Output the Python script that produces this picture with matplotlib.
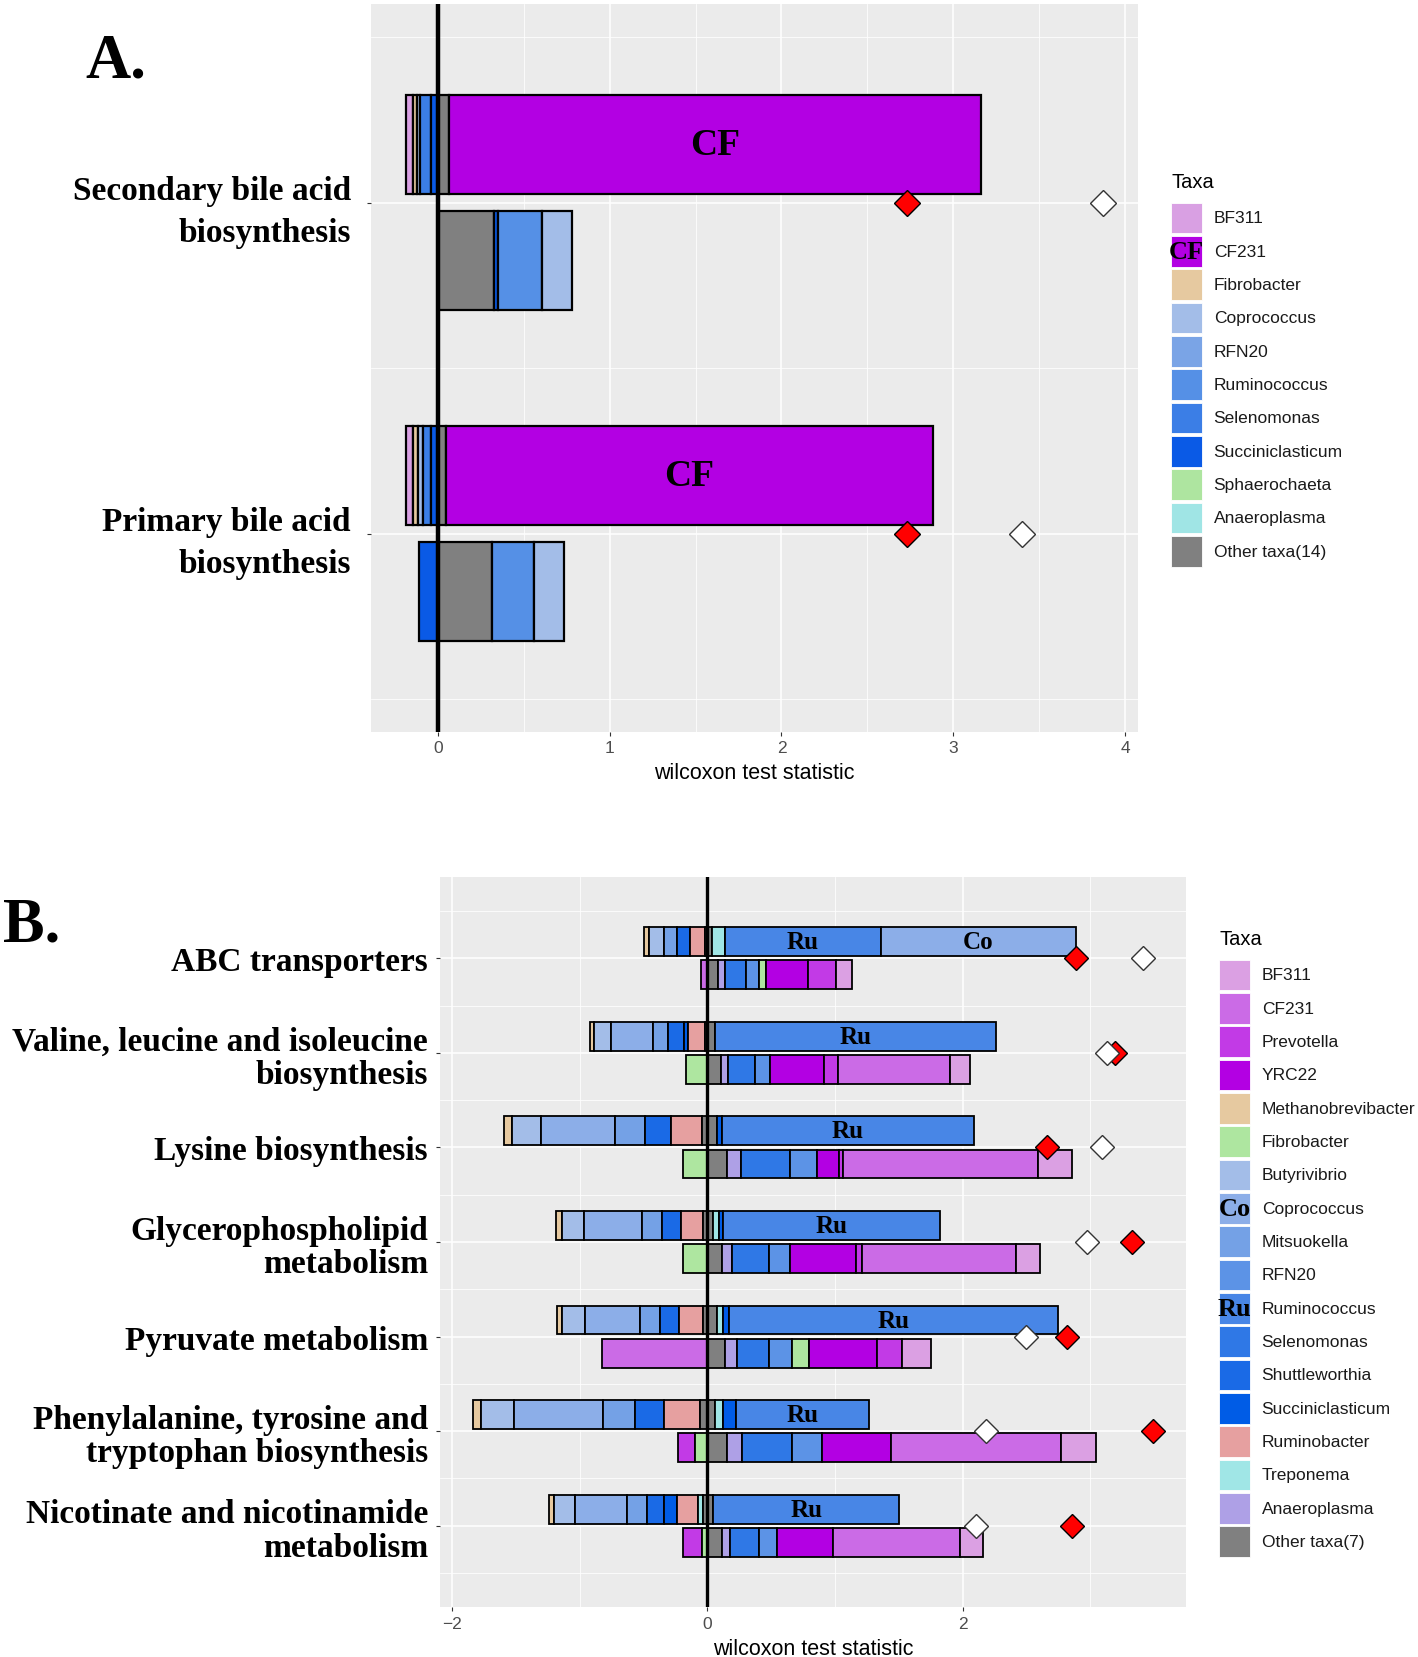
import matplotlib
matplotlib.use('Agg')
import matplotlib.pyplot as plt
from matplotlib.patches import Rectangle

plt.rcParams['font.family'] = ['Liberation Sans', 'DejaVu Sans']
SERIF = 'Liberation Serif'
PANEL = '#ebebeb'
W, H = 1418, 1658
ROW = 33.33  # legend row pitch in px

# ============================================================
# Panel A data
# ============================================================
a_pathways = ['Primary bile acid\nbiosynthesis', 'Secondary bile acid\nbiosynthesis']
a_taxa = ['BF311', 'CF231', 'Fibrobacter', 'Coprococcus', 'RFN20', 'Ruminococcus',
          'Selenomonas', 'Succiniclasticum', 'Sphaerochaeta', 'Anaeroplasma', 'Other']
a_colors = ['#d9a0e3', '#b300e3', '#e6c9a0', '#a3bde8', '#7aa4e6', '#5590e6',
            '#3b7ee6', '#0a5ae6', '#aee5a0', '#a0e5e5', '#808080']
a_other_label = 'Other taxa(14)'
# stacked contributions, left to right (negatives first)
a_upper = [
    [('BF311', -0.043), ('Fibrobacter', -0.025), ('Coprococcus', -0.03), ('Selenomonas', -0.045),
     ('Succiniclasticum', -0.042), ('Other', 0.05), ('CF231', 2.83)],
    [('BF311', -0.044), ('Fibrobacter', -0.02), ('Coprococcus', -0.019), ('Selenomonas', -0.068),
     ('Succiniclasticum', -0.037), ('Other', 0.065), ('CF231', 3.095)],
]
a_lower = [
    [('Succiniclasticum', -0.109), ('Other', 0.314), ('Ruminococcus', 0.246), ('Coprococcus', 0.175)],
    [('Other', 0.328), ('Succiniclasticum', 0.023), ('Ruminococcus', 0.253), ('Coprococcus', 0.178)],
]
a_red = [2.73, 2.73]
a_white = [3.40, 3.87]
a_bar_labels = {'CF231': 'CF'}

# ============================================================
# Panel B data
# ============================================================
b_pathways = ['ABC transporters',
              'Valine, leucine and isoleucine\nbiosynthesis',
              'Lysine biosynthesis',
              'Glycerophospholipid\nmetabolism',
              'Pyruvate metabolism',
              'Phenylalanine, tyrosine and\ntryptophan biosynthesis',
              'Nicotinate and nicotinamide\nmetabolism']
b_taxa = ['BF311', 'CF231', 'Prevotella', 'YRC22', 'Methanobrevibacter', 'Fibrobacter',
          'Butyrivibrio', 'Coprococcus', 'Mitsuokella', 'RFN20', 'Ruminococcus', 'Selenomonas',
          'Shuttleworthia', 'Succiniclasticum', 'Ruminobacter', 'Treponema', 'Anaeroplasma', 'Other']
b_colors = ['#dba0e3', '#cb6be6', '#c23ae6', '#b300e3', '#e6c9a0', '#aee6a0',
            '#a3bde8', '#8caee8', '#74a1e6', '#5c93e6', '#4886e6', '#2f78e6',
            '#1a6ae6', '#005ce6', '#e6a0a0', '#a0e6e6', '#aea0e6', '#808080']
b_other_label = 'Other taxa(7)'
b_upper = [
    [('Methanobrevibacter', -0.039), ('Butyrivibrio', -0.115), ('Mitsuokella', -0.104),
     ('Shuttleworthia', -0.099), ('Ruminobacter', -0.121), ('Other', -0.015),
     ('Other', 0.034), ('Treponema', 0.104), ('Ruminococcus', 1.221), ('Coprococcus', 1.525)],
    [('Methanobrevibacter', -0.034), ('Butyrivibrio', -0.128), ('Coprococcus', -0.329),
     ('Mitsuokella', -0.122), ('Shuttleworthia', -0.123), ('Succiniclasticum', -0.029),
     ('Ruminobacter', -0.135), ('Other', -0.019), ('Other', 0.06), ('Ruminococcus', 2.197)],
    [('Methanobrevibacter', -0.06), ('Butyrivibrio', -0.227), ('Coprococcus', -0.582),
     ('Mitsuokella', -0.235), ('Shuttleworthia', -0.201), ('Ruminobacter', -0.243),
     ('Other', -0.045), ('Other', 0.073), ('Succiniclasticum', 0.04), ('Ruminococcus', 1.971)],
    [('Methanobrevibacter', -0.044), ('Butyrivibrio', -0.175), ('Coprococcus', -0.452),
     ('Mitsuokella', -0.161), ('Shuttleworthia', -0.144), ('Ruminobacter', -0.177),
     ('Other', -0.032), ('Other', 0.047), ('Treponema', 0.04), ('Succiniclasticum', 0.034),
     ('Ruminococcus', 1.697)],
    [('Methanobrevibacter', -0.044), ('Butyrivibrio', -0.178), ('Coprococcus', -0.431),
     ('Mitsuokella', -0.157), ('Shuttleworthia', -0.151), ('Ruminobacter', -0.183),
     ('Other', -0.037), ('Other', 0.073), ('Treponema', 0.047), ('Succiniclasticum', 0.047),
     ('Ruminococcus', 2.576)],
    [('Methanobrevibacter', -0.06), ('Butyrivibrio', -0.258), ('Coprococcus', -0.694),
     ('Mitsuokella', -0.253), ('Shuttleworthia', -0.227), ('Ruminobacter', -0.282),
     ('Other', -0.058), ('Other', 0.06), ('Treponema', 0.06), ('Succiniclasticum', 0.104),
     ('Ruminococcus', 1.038)],
    [('Methanobrevibacter', -0.039), ('Butyrivibrio', -0.162), ('Coprococcus', -0.405),
     ('Mitsuokella', -0.157), ('Shuttleworthia', -0.136), ('Succiniclasticum', -0.104),
     ('Ruminobacter', -0.164), ('Treponema', -0.034), ('Other', -0.037), ('Other', 0.046),
     ('Ruminococcus', 1.457)],
]
b_lower = [
    [('CF231', -0.052), ('Other', 0.08), ('Anaeroplasma', 0.058), ('Selenomonas', 0.163),
     ('RFN20', 0.105), ('Fibrobacter', 0.05), ('YRC22', 0.33), ('Prevotella', 0.22), ('BF311', 0.13)],
    [('Fibrobacter', -0.17), ('Other', 0.105), ('Anaeroplasma', 0.06), ('Selenomonas', 0.204),
     ('RFN20', 0.122), ('YRC22', 0.425), ('Prevotella', 0.107), ('CF231', 0.88), ('BF311', 0.151)],
    [('Fibrobacter', -0.189), ('Other', 0.156), ('Anaeroplasma', 0.104), ('Selenomonas', 0.386),
     ('RFN20', 0.214), ('YRC22', 0.172), ('Prevotella', 0.026), ('CF231', 1.532), ('BF311', 0.269)],
    [('Fibrobacter', -0.189), ('Other', 0.112), ('Anaeroplasma', 0.083), ('Selenomonas', 0.287),
     ('RFN20', 0.164), ('YRC22', 0.517), ('Prevotella', 0.044), ('CF231', 1.206), ('BF311', 0.19)],
    [('CF231', -0.828), ('Other', 0.138), ('Anaeroplasma', 0.092), ('Selenomonas', 0.256),
     ('RFN20', 0.175), ('Fibrobacter', 0.136), ('YRC22', 0.53), ('Prevotella', 0.196), ('BF311', 0.23)],
    [('Prevotella', -0.131), ('Fibrobacter', -0.097), ('Other', 0.156), ('Anaeroplasma', 0.117),
     ('Selenomonas', 0.392), ('RFN20', 0.23), ('YRC22', 0.54), ('CF231', 1.331), ('BF311', 0.276)],
    [('Prevotella', -0.149), ('Fibrobacter', -0.045), ('Other', 0.112), ('Anaeroplasma', 0.065),
     ('Selenomonas', 0.227), ('RFN20', 0.138), ('YRC22', 0.444), ('CF231', 0.992), ('BF311', 0.178)],
]
b_red = [2.89, 3.19, 2.657, 3.325, 2.813, 3.486, 2.853]
b_white = [3.41, 3.13, 3.09, 2.97, 2.495, 2.18, 2.10]
b_bar_labels = {'Ruminococcus': 'Ru', 'Coprococcus': 'Co'}


def px_rect(left, top, right, bottom):
    return [left / W, 1 - bottom / H, (right - left) / W, (bottom - top) / H]


def draw_bar(ax, y, segs, height, cmap, lw, labels=None):
    left = sum(v for _, v in segs if v < 0)
    for name, v in segs:
        w = abs(v)
        ax.barh(y, w, left=left, height=height, color=cmap[name],
                edgecolor='black', linewidth=lw, zorder=3)
        if labels and name in labels and v > 0:
            ax.text(left + w / 2, y, labels[name], ha='center', va='center',
                    family=SERIF, fontweight='bold', fontsize=labels['_size'], zorder=6)
        left += w


def style_panel(ax, xlim, ylim, xmaj, xmin, ymin, ylabels, ls, pad):
    ax.set_facecolor(PANEL)
    for s in ax.spines.values():
        s.set_visible(False)
    ax.set_xlim(*xlim)
    ax.set_ylim(*ylim)
    ax.set_xticks(xmaj)
    ax.set_xticks(xmin, minor=True)
    ax.set_yticks(range(1, len(ylabels) + 1))
    ax.set_yticks(ymin, minor=True)
    ax.grid(which='major', color='white', linewidth=1.1)
    ax.grid(which='minor', color='white', linewidth=0.55)
    ax.set_axisbelow(True)
    ax.tick_params(which='minor', length=0)
    ax.tick_params(which='major', length=3, width=0.8, color='#333333',
                   labelcolor='#4d4d4d', labelsize=12.5)
    ax.tick_params(axis='x', pad=3)
    ax.tick_params(axis='y', pad=pad)
    ax.set_yticklabels(ylabels, family=SERIF, fontweight='bold', fontsize=24,
                       color='black', linespacing=ls)
    ax.set_xlabel('wilcoxon test statistic', fontsize=15.5, color='black', labelpad=5)


def draw_legend(fig, left, first_y, width, taxa, colors, other_label, overlays):
    n = len(taxa)
    top = first_y - 1.7 * ROW
    bottom = first_y + (n - 0.5) * ROW
    lax = fig.add_axes(px_rect(left, top, left + width, bottom))
    lax.set_axis_off()
    lax.set_xlim(0, width / ROW)
    lax.set_ylim(n - 0.5, -1.7)
    lax.text(0, -1.11, 'Taxa', ha='left', va='center', fontsize=14.5, color='black')
    for i, (t, c) in enumerate(zip(taxa, colors)):
        lax.add_patch(Rectangle((0, i - 0.46), 0.93, 0.92, facecolor=c,
                                edgecolor='white', linewidth=0.6))
        lab = other_label if t == 'Other' else t
        lax.text(1.28, i, lab, ha='left', va='center', fontsize=12.5, color='#1a1a1a')
        if t in overlays:
            lax.text(0.465, i, overlays[t], ha='center', va='center', family=SERIF,
                     fontweight='bold', fontsize=19, color='black')


fig = plt.figure(figsize=(W / 100, H / 100), dpi=100)
fig.patch.set_facecolor('white')

# ---------------- Panel A ----------------
axA = fig.add_axes(px_rect(371, 5.3, 1138, 733))
a_cmap = dict(zip(a_taxa, a_colors))
style_panel(axA, (-0.389, 4.075), (0.40, 2.60), [0, 1, 2, 3, 4], [0.5, 1.5, 2.5, 3.5],
            [0.5, 1.5, 2.5], a_pathways, 1.46, 11.4)
lbl_a = dict(a_bar_labels, _size=27)
for i in range(len(a_pathways)):
    y = i + 1
    draw_bar(axA, y + 0.175, a_upper[i], 0.30, a_cmap, 1.6, lbl_a)
    draw_bar(axA, y - 0.175, a_lower[i], 0.30, a_cmap, 1.6)
ya = list(range(1, len(a_pathways) + 1))
axA.axvline(0, color='black', linewidth=3.2, zorder=4)
axA.plot(a_red, ya, 'D', ms=13, mfc='#ff0000', mec='black', mew=1, ls='none', zorder=7)
axA.plot(a_white, ya, 'D', ms=13, mfc='white', mec='#333333', mew=1, ls='none', zorder=7)

# ---------------- Panel B ----------------
axB = fig.add_axes(px_rect(440, 878.3, 1186.4, 1608.3))
b_cmap = dict(zip(b_taxa, b_colors))
nb = len(b_pathways)
style_panel(axB, (-2.094, 3.751), (0.137, 7.857), [-2, 0, 2], [-1, 1, 3],
            [k + 0.5 for k in range(nb + 1)], b_pathways[::-1], 1.10, 5.6)
lbl_b = dict(b_bar_labels, _size=18)
for i in range(nb):
    y = nb - i
    draw_bar(axB, y + 0.175, b_upper[i], 0.305, b_cmap, 1.3, lbl_b)
    draw_bar(axB, y - 0.175, b_lower[i], 0.305, b_cmap, 1.3)
yb = [nb - i for i in range(nb)]
axB.axvline(0, color='black', linewidth=2.4, zorder=4)
axB.plot(b_red, yb, 'D', ms=12.5, mfc='#ff0000', mec='black', mew=1, ls='none', zorder=7)
axB.plot(b_white, yb, 'D', ms=12.5, mfc='white', mec='#333333', mew=1, ls='none', zorder=7)

# ---------------- Legends ----------------
draw_legend(fig, 1171, 219, 247, a_taxa, a_colors, a_other_label, {'CF231': 'CF'})
draw_legend(fig, 1219, 976, 199, b_taxa, b_colors, b_other_label,
            {'Coprococcus': 'Co', 'Ruminococcus': 'Ru'})

# panel tags
fig.text(85 / W, 1 - 77 / H, 'A.', family=SERIF, fontweight='bold', fontsize=45, va='baseline')
fig.text(3 / W, 1 - 941.7 / H, 'B.', family=SERIF, fontweight='bold', fontsize=45, va='baseline')

fig.savefig('out.png', dpi=100, facecolor='white')
